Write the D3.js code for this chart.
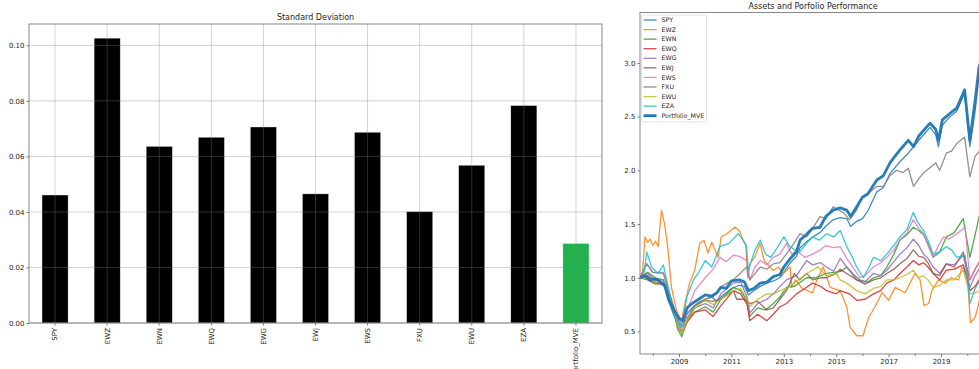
<!DOCTYPE html>
<html><head><meta charset="utf-8">
<script src="https://cdn.jsdelivr.net/npm/d3@7"></script>
<style>
html,body{margin:0;padding:0;background:#fff;}
svg{display:block;font-family:"DejaVu Sans",sans-serif;}
</style></head>
<body><svg id="c" width="979" height="369"></svg>
<script>
// ---------- Bar chart data ----------
const categories = ["SPY","EWZ","EWN","EWQ","EWG","EWJ","EWS","FXU","EWU","EZA","Portfolio_MVE"];
const stdValues = [0.0461,0.1026,0.0636,0.0669,0.0706,0.0465,0.0687,0.0401,0.0568,0.0783,0.0286];
const stdTicks = [0,0.02,0.04,0.06,0.08,0.10];

// ---------- Line chart data: [year, growth of 1] ----------
const SPY = [[2007.5,1.0],[2007.7,1.01],[2007.9,0.97],[2008.1,0.95],[2008.3,0.94],[2008.45,0.92],[2008.6,0.78],[2008.8,0.65],[2009.0,0.58],[2009.15,0.54],[2009.3,0.66],[2009.5,0.72],[2009.75,0.77],[2010.0,0.80],[2010.25,0.82],[2010.45,0.78],[2010.6,0.82],[2010.8,0.86],[2011.0,0.90],[2011.3,0.93],[2011.5,0.92],[2011.65,0.84],[2011.85,0.88],[2012.1,0.92],[2012.35,0.95],[2012.6,0.97],[2012.85,1.0],[2013.0,1.05],[2013.25,1.14],[2013.48,1.20],[2013.62,1.28],[2013.85,1.33],[2014.1,1.38],[2014.38,1.42],[2014.6,1.48],[2014.88,1.54],[2015.15,1.56],[2015.4,1.55],[2015.55,1.48],[2015.75,1.52],[2016.0,1.55],[2016.2,1.62],[2016.55,1.80],[2016.8,1.84],[2017.05,1.97],[2017.43,2.08],[2017.75,2.16],[2017.95,2.22],[2018.15,2.28],[2018.58,2.40],[2018.8,2.33],[2018.9,2.22],[2019.05,2.42],[2019.34,2.50],[2019.6,2.55],[2019.9,2.72],[2020.1,2.22],[2020.3,2.55],[2020.45,2.88],[2020.5,2.92]];
const EWZ = [[2007.5,1.0],[2007.6,1.02],[2007.7,1.38],[2007.8,1.33],[2007.9,1.36],[2008.0,1.30],[2008.1,1.34],[2008.2,1.29],[2008.33,1.63],[2008.45,1.50],[2008.58,1.26],[2008.71,0.91],[2008.9,0.70],[2009.09,0.60],[2009.25,0.79],[2009.4,0.95],[2009.6,1.07],[2009.79,1.32],[2009.95,1.35],[2010.1,1.23],[2010.25,1.33],[2010.49,1.19],[2010.61,1.38],[2010.82,1.41],[2011.13,1.47],[2011.3,1.44],[2011.44,1.35],[2011.55,1.30],[2011.62,1.0],[2011.71,1.13],[2011.9,1.20],[2012.09,1.32],[2012.25,1.16],[2012.59,1.07],[2012.8,1.10],[2012.98,1.04],[2013.24,1.10],[2013.3,0.91],[2013.45,0.98],[2013.7,0.90],[2014.1,0.86],[2014.26,0.98],[2014.5,1.10],[2014.77,0.91],[2015.15,0.88],[2015.4,0.73],[2015.53,0.54],[2015.78,0.46],[2016.02,0.46],[2016.24,0.63],[2016.48,0.73],[2016.75,0.86],[2017.0,0.79],[2017.25,0.91],[2017.63,0.86],[2018.0,1.04],[2018.2,0.98],[2018.35,0.74],[2018.53,0.76],[2018.65,0.88],[2018.9,0.98],[2019.15,0.95],[2019.4,1.0],[2019.67,0.98],[2019.8,1.10],[2020.0,1.04],[2020.12,0.58],[2020.3,0.63],[2020.5,0.82]];
const EWN = [[2007.5,1.0],[2007.8,1.05],[2008.1,1.0],[2008.4,0.98],[2008.7,0.78],[2008.95,0.52],[2009.1,0.45],[2009.35,0.62],[2009.6,0.68],[2010.0,0.73],[2010.3,0.68],[2010.6,0.80],[2011.07,0.91],[2011.35,0.88],[2011.6,0.78],[2011.7,0.64],[2012.0,0.72],[2012.3,0.70],[2012.6,0.76],[2012.85,0.82],[2013.1,0.91],[2013.4,0.92],[2013.87,1.0],[2014.2,1.0],[2014.63,1.04],[2014.9,1.05],[2015.2,1.06],[2015.4,1.10],[2015.7,1.02],[2015.9,0.98],[2016.2,0.96],[2016.42,1.0],[2016.7,1.02],[2016.93,1.10],[2017.2,1.22],[2017.43,1.35],[2017.7,1.40],[2017.94,1.47],[2018.15,1.44],[2018.33,1.40],[2018.5,1.32],[2018.7,1.19],[2018.95,1.24],[2019.2,1.38],[2019.5,1.42],[2019.85,1.55],[2020.1,1.19],[2020.3,1.40],[2020.5,1.62]];
const EWQ = [[2007.5,1.0],[2007.8,1.02],[2008.1,0.96],[2008.4,0.95],[2008.7,0.75],[2008.95,0.55],[2009.1,0.50],[2009.35,0.60],[2009.6,0.68],[2010.0,0.70],[2010.3,0.64],[2010.6,0.74],[2011.07,0.88],[2011.35,0.85],[2011.6,0.75],[2011.7,0.60],[2012.0,0.66],[2012.35,0.60],[2012.6,0.66],[2012.85,0.73],[2013.1,0.76],[2013.48,0.85],[2013.8,0.90],[2014.1,0.95],[2014.4,0.92],[2014.63,0.88],[2015.0,0.85],[2015.15,0.88],[2015.5,0.85],[2015.78,0.79],[2016.1,0.80],[2016.42,0.85],[2016.7,0.88],[2016.93,0.95],[2017.2,0.98],[2017.43,1.04],[2017.7,1.10],[2017.94,1.16],[2018.15,1.12],[2018.33,1.14],[2018.5,1.10],[2018.7,1.04],[2018.95,0.98],[2019.2,1.07],[2019.5,1.08],[2019.85,1.12],[2020.1,0.88],[2020.3,0.92],[2020.5,1.0]];
const EWG = [[2007.5,1.0],[2007.8,1.04],[2008.1,0.98],[2008.4,0.98],[2008.7,0.78],[2008.95,0.55],[2009.1,0.48],[2009.35,0.62],[2009.6,0.72],[2010.0,0.76],[2010.3,0.72],[2010.6,0.85],[2011.07,0.95],[2011.35,0.96],[2011.6,0.82],[2011.7,0.67],[2012.0,0.76],[2012.35,0.80],[2012.6,0.85],[2012.85,0.92],[2013.1,0.98],[2013.48,1.02],[2013.87,1.16],[2014.1,1.12],[2014.4,1.14],[2014.63,1.10],[2014.9,1.06],[2015.15,1.18],[2015.4,1.10],[2015.78,0.98],[2016.1,0.96],[2016.42,1.04],[2016.7,1.02],[2016.93,1.07],[2017.2,1.15],[2017.43,1.22],[2017.7,1.28],[2017.94,1.36],[2018.15,1.30],[2018.33,1.22],[2018.5,1.18],[2018.7,1.10],[2018.95,1.04],[2019.2,1.13],[2019.5,1.12],[2019.85,1.21],[2020.1,0.91],[2020.3,1.02],[2020.5,1.10]];
const EWJ = [[2007.5,1.0],[2007.8,0.98],[2008.1,0.94],[2008.4,0.95],[2008.7,0.80],[2008.95,0.60],[2009.1,0.50],[2009.35,0.62],[2009.6,0.74],[2010.0,0.79],[2010.3,0.78],[2010.6,0.80],[2011.07,0.88],[2011.2,0.80],[2011.5,0.80],[2011.7,0.76],[2012.0,0.78],[2012.35,0.70],[2012.6,0.72],[2012.85,0.80],[2013.1,0.88],[2013.4,1.04],[2013.6,0.98],[2013.87,1.04],[2014.1,0.98],[2014.4,1.0],[2014.63,1.0],[2015.0,1.04],[2015.15,1.08],[2015.4,1.04],[2015.78,0.98],[2016.1,0.94],[2016.42,0.98],[2016.7,1.0],[2016.93,1.04],[2017.2,1.08],[2017.43,1.13],[2017.7,1.18],[2017.94,1.26],[2018.15,1.20],[2018.33,1.19],[2018.5,1.14],[2018.7,1.04],[2018.95,1.02],[2019.2,1.13],[2019.5,1.10],[2019.85,1.24],[2020.1,0.98],[2020.3,1.08],[2020.5,1.16]];
const EWS = [[2007.5,1.0],[2007.77,1.13],[2008.0,1.05],[2008.4,1.05],[2008.7,0.80],[2009.1,0.48],[2009.35,0.72],[2009.6,0.88],[2010.0,1.0],[2010.3,1.08],[2010.56,1.19],[2010.8,1.15],[2011.07,1.21],[2011.3,1.20],[2011.58,1.16],[2011.7,0.98],[2011.9,1.10],[2012.1,1.16],[2012.35,1.12],[2012.6,1.19],[2012.85,1.22],[2013.1,1.32],[2013.3,1.22],[2013.5,1.25],[2013.8,1.19],[2014.1,1.22],[2014.4,1.26],[2014.6,1.30],[2014.9,1.28],[2015.15,1.29],[2015.4,1.18],[2015.55,1.13],[2015.9,1.0],[2016.1,1.02],[2016.42,1.10],[2016.7,1.14],[2016.93,1.19],[2017.2,1.26],[2017.43,1.35],[2017.7,1.42],[2017.94,1.54],[2018.15,1.46],[2018.33,1.41],[2018.5,1.30],[2018.7,1.19],[2018.9,1.30],[2019.1,1.38],[2019.3,1.36],[2019.6,1.41],[2019.92,1.47],[2020.1,0.98],[2020.3,1.08],[2020.5,1.16]];
const FXU = [[2007.5,1.0],[2007.77,1.13],[2008.0,1.05],[2008.4,1.04],[2008.7,0.80],[2008.95,0.62],[2009.1,0.57],[2009.35,0.64],[2009.6,0.74],[2010.0,0.80],[2010.3,0.82],[2010.56,0.91],[2011.07,0.98],[2011.33,1.04],[2011.58,1.10],[2011.7,0.98],[2012.1,1.10],[2012.35,1.08],[2012.6,1.13],[2012.85,1.14],[2013.0,1.19],[2013.3,1.29],[2013.62,1.41],[2013.87,1.38],[2014.1,1.46],[2014.38,1.57],[2014.6,1.55],[2014.88,1.66],[2015.1,1.63],[2015.3,1.60],[2015.5,1.54],[2015.75,1.62],[2016.0,1.75],[2016.3,1.80],[2016.55,1.85],[2016.8,1.85],[2017.05,1.95],[2017.3,2.0],[2017.55,1.98],[2017.75,2.02],[2017.95,1.85],[2018.15,1.92],[2018.3,1.97],[2018.55,2.02],[2018.8,2.07],[2018.95,2.0],[2019.2,2.16],[2019.4,2.18],[2019.6,2.25],[2019.9,2.31],[2020.1,1.94],[2020.3,2.13],[2020.5,2.19]];
const EWU = [[2007.5,1.0],[2007.8,1.0],[2008.1,0.95],[2008.4,0.96],[2008.7,0.76],[2008.95,0.55],[2009.1,0.48],[2009.35,0.62],[2009.6,0.72],[2010.0,0.79],[2010.3,0.75],[2010.6,0.80],[2011.07,0.88],[2011.35,0.90],[2011.6,0.80],[2011.7,0.73],[2012.0,0.80],[2012.35,0.85],[2012.6,0.85],[2012.85,0.88],[2013.1,0.90],[2013.4,0.95],[2013.87,1.04],[2014.3,1.10],[2014.63,1.02],[2015.0,1.04],[2015.15,0.98],[2015.4,0.95],[2015.78,0.88],[2016.1,0.85],[2016.42,0.90],[2016.7,0.92],[2016.93,0.98],[2017.2,0.98],[2017.43,1.0],[2017.7,1.03],[2017.94,1.07],[2018.15,1.0],[2018.33,1.02],[2018.5,0.98],[2018.7,0.91],[2018.95,0.93],[2019.2,0.98],[2019.5,0.98],[2019.85,1.07],[2020.1,0.85],[2020.3,0.86],[2020.5,0.88]];
const EZA = [[2007.5,1.0],[2007.65,1.02],[2007.77,1.24],[2007.95,1.10],[2008.2,1.04],[2008.4,1.12],[2008.6,0.90],[2008.85,0.62],[2009.1,0.54],[2009.3,0.82],[2009.55,0.98],[2009.75,1.05],[2010.0,1.16],[2010.25,1.10],[2010.56,1.29],[2010.9,1.32],[2011.26,1.41],[2011.45,1.35],[2011.58,1.29],[2011.64,1.07],[2011.9,1.26],[2012.1,1.35],[2012.3,1.22],[2012.5,1.19],[2012.75,1.28],[2013.0,1.38],[2013.2,1.30],[2013.4,1.26],[2013.6,1.24],[2013.87,1.32],[2014.1,1.38],[2014.35,1.35],[2014.63,1.41],[2014.9,1.38],[2015.15,1.44],[2015.4,1.29],[2015.6,1.20],[2015.78,1.10],[2016.03,1.0],[2016.25,1.10],[2016.42,1.19],[2016.7,1.16],[2016.93,1.22],[2017.2,1.30],[2017.43,1.38],[2017.7,1.45],[2017.94,1.61],[2018.1,1.52],[2018.33,1.44],[2018.5,1.35],[2018.7,1.22],[2018.95,1.24],[2019.2,1.29],[2019.4,1.26],[2019.6,1.19],[2019.92,1.21],[2020.1,0.76],[2020.3,0.90],[2020.5,0.98]];
const Portfolio_MVE = [[2007.5,1.0],[2007.7,1.02],[2007.9,0.98],[2008.1,0.99],[2008.3,0.96],[2008.45,0.93],[2008.6,0.80],[2008.8,0.70],[2009.0,0.62],[2009.15,0.60],[2009.3,0.72],[2009.5,0.76],[2009.75,0.80],[2010.0,0.84],[2010.25,0.83],[2010.45,0.86],[2010.6,0.91],[2010.8,0.90],[2011.0,0.97],[2011.3,0.98],[2011.5,0.96],[2011.65,0.88],[2011.85,0.90],[2012.1,0.95],[2012.35,0.96],[2012.6,1.01],[2012.85,1.03],[2013.0,1.10],[2013.25,1.18],[2013.48,1.24],[2013.62,1.35],[2013.85,1.40],[2014.1,1.46],[2014.38,1.47],[2014.6,1.57],[2014.88,1.63],[2015.15,1.65],[2015.4,1.63],[2015.55,1.57],[2015.75,1.65],[2016.0,1.75],[2016.2,1.78],[2016.55,1.91],[2016.8,1.95],[2017.05,2.07],[2017.43,2.19],[2017.75,2.28],[2017.95,2.22],[2018.15,2.32],[2018.58,2.44],[2018.8,2.38],[2018.9,2.28],[2019.05,2.47],[2019.34,2.53],[2019.6,2.58],[2019.9,2.75],[2020.1,2.28],[2020.3,2.65],[2020.45,2.96],[2020.5,3.0]];

const seriesNames = ["SPY","EWZ","EWN","EWQ","EWG","EWJ","EWS","FXU","EWU","EZA","Portfolio_MVE"];
const seriesData = [SPY,EWZ,EWN,EWQ,EWG,EWJ,EWS,FXU,EWU,EZA,Portfolio_MVE];
const seriesColors = ["#1f77b4","#ff7f0e","#2ca02c","#d62728","#9467bd","#8c564b","#e377c2","#7f7f7f","#bcbd22","#17becf","#1f77b4"];
const perfYTicks = [0.5,1.0,1.5,2.0,2.5,3.0];
const perfXLabelYears = [2009,2011,2013,2015,2017,2019];
const perfXMinorYears = [2008,2010,2012,2014,2016,2018,2020];

const svg = d3.select("#c");
const txt = "#262626", spine = "#7a7a7a";

// ================= Bar chart =================
{
  const L=29, R=602, T=24, B=323;
  const x = d3.scaleBand().domain(categories).range([L,R]).paddingInner(0.5).paddingOuter(0.25);
  const y = d3.scaleLinear().domain([0,0.1077]).range([B,T]);
  const g = svg.append("g");
  g.selectAll("rect.bar").data(categories).join("rect")
    .attr("x", d=>x(d)).attr("width", x.bandwidth())
    .attr("y", (d,i)=>y(stdValues[i])).attr("height",(d,i)=>B-y(stdValues[i]))
    .attr("fill",(d,i)=> d==="Portfolio_MVE" ? "#22b14c" : "#000")
    .attr("stroke","#d8d8d8").attr("stroke-width",0.4);
  g.selectAll("line.hg").data(stdTicks).join("line")
    .attr("x1",L).attr("x2",R).attr("y1",d=>y(d)).attr("y2",d=>y(d))
    .attr("stroke","#808080").attr("stroke-opacity",0.35).attr("stroke-width",1);
  g.selectAll("line.vg").data(categories).join("line")
    .attr("x1",d=>x(d)+x.bandwidth()/2).attr("x2",d=>x(d)+x.bandwidth()/2).attr("y1",T).attr("y2",B)
    .attr("stroke","#808080").attr("stroke-opacity",0.35).attr("stroke-width",1);
  g.append("rect").attr("x",L).attr("y",T).attr("width",R-L).attr("height",B-T)
    .attr("fill","none").attr("stroke",spine).attr("stroke-width",0.9);
  const ya = g.append("g").attr("transform",`translate(${L},0)`)
    .call(d3.axisLeft(y).tickValues(stdTicks).tickFormat(d3.format(".2f")).tickSize(2.5).tickPadding(2));
  ya.select(".domain").remove();
  ya.selectAll("line").attr("stroke",spine);
  ya.selectAll("text").attr("font-size",7).attr("fill",txt).attr("font-family","DejaVu Sans");
  const xa = g.append("g").attr("transform",`translate(0,${B})`)
    .call(d3.axisBottom(x).tickSize(2.5).tickPadding(2));
  xa.select(".domain").remove();
  xa.selectAll("line").attr("stroke",spine);
  xa.selectAll("text").attr("font-size",7).attr("fill",txt).attr("font-family","DejaVu Sans")
    .attr("transform","rotate(-90)").attr("text-anchor","end").attr("dy","0.35em")
    .attr("x",-5).attr("y",0);
  g.append("text").attr("x",(L+R)/2).attr("y",T-4).attr("text-anchor","middle")
    .attr("font-size",8).attr("fill",txt).text("Standard Deviation");
}

// ================= Line chart =================
{
  const L=640, R=986, T=12.5, B=354;
  const x = d3.scaleLinear().domain([2007.51, 2020.716]).range([L,R]);
  const y = d3.scaleLinear().domain([0.29, 3.47]).range([B,T]);
  const g = svg.append("g");
  g.append("defs").append("clipPath").attr("id","pc").append("rect")
    .attr("x",L).attr("y",T).attr("width",R-L).attr("height",B-T);
  const line = d3.line().x(d=>x(d[0])).y(d=>y(d[1]));
  const lg = g.append("g").attr("clip-path","url(#pc)");
  seriesData.forEach((s,i)=>{
    const isP = seriesNames[i]==="Portfolio_MVE";
    lg.append("path").datum(s).attr("d",line).attr("fill","none")
      .attr("stroke",seriesColors[i]).attr("stroke-width", isP?2.8:1.3)
      .attr("stroke-opacity", isP?0.95:0.85).attr("stroke-linejoin","round");
  });
  g.append("rect").attr("x",L).attr("y",T).attr("width",R-L).attr("height",B-T)
    .attr("fill","none").attr("stroke",spine).attr("stroke-width",0.9);
  const ya = g.append("g").attr("transform",`translate(${L},0)`)
    .call(d3.axisLeft(y).tickValues(perfYTicks).tickFormat(d3.format(".1f")).tickSize(2.5).tickPadding(2));
  ya.select(".domain").remove();
  ya.selectAll("line").attr("stroke",spine);
  ya.selectAll("text").attr("font-size",7).attr("fill",txt).attr("font-family","DejaVu Sans");
  const xa = g.append("g").attr("transform",`translate(0,${B})`)
    .call(d3.axisBottom(x).tickValues(perfXLabelYears).tickFormat(d3.format("d")).tickSize(3).tickPadding(2));
  xa.select(".domain").remove();
  xa.selectAll("line").attr("stroke",spine);
  xa.selectAll("text").attr("font-size",7).attr("fill",txt).attr("font-family","DejaVu Sans");
  const xm = g.append("g").attr("transform",`translate(0,${B})`)
    .call(d3.axisBottom(x).tickValues(perfXMinorYears).tickFormat("").tickSize(2));
  xm.select(".domain").remove();
  xm.selectAll("line").attr("stroke",spine);
  g.append("text").attr("x",(L+R)/2).attr("y",T-4).attr("text-anchor","middle")
    .attr("font-size",8).attr("fill",txt).text("Assets and Porfolio Performance");
  const lgx=641.5, lgy=15, step=9.57;
  g.append("rect").attr("x",lgx).attr("y",lgy).attr("width",65).attr("height",107)
    .attr("rx",2).attr("fill","#fff").attr("fill-opacity",0.85).attr("stroke","#dcdcdc").attr("stroke-width",0.8);
  const items = g.selectAll("g.li").data(seriesNames).join("g")
    .attr("transform",(d,i)=>`translate(0,${20+i*step})`);
  items.append("line").attr("x1",643.5).attr("x2",656.5).attr("y1",0).attr("y2",0)
    .attr("stroke",(d,i)=>seriesColors[i]).attr("stroke-width",d=>d==="Portfolio_MVE"?2.8:1.3)
    .attr("stroke-opacity",(d)=>d==="Portfolio_MVE"?1:0.85);
  items.append("text").attr("x",661.5).attr("y",0).attr("dy","0.35em")
    .attr("font-size",6.3).attr("fill",txt).text(d=>d);
}
</script></body></html>
